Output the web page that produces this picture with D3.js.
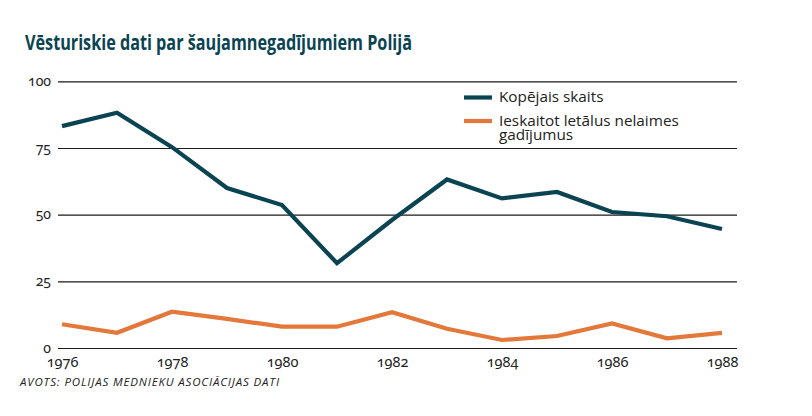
<!DOCTYPE html>
<html>
<head>
<meta charset="utf-8">
<script src="https://cdn.jsdelivr.net/npm/d3@7"></script>
<style>
  body { margin: 0; background: #fff; }
  svg text { font-family: "Open Sans", "Noto Sans", sans-serif; }
  svg .tick text { font-family: "Noto Sans", "Open Sans", sans-serif; font-feature-settings: "onum" 1; font-variant-numeric: oldstyle-nums; }
</style>
</head>
<body>
<div id="chart"></div>
<script>
// Chart data
const years = [1976, 1977, 1978, 1979, 1980, 1981, 1982, 1983, 1984, 1985, 1986, 1987, 1988]
const total = [83.2, 88.2, 75.3, 60, 53.6, 31.8, 48, 63.2, 56.1, 58.5, 51, 49.4, 44.6]
const fatal = [8.9, 5.7, 13.6, 10.9, 8, 8, 13.4, 7.2, 3, 4.5, 9.2, 3.6, 5.7]
const yTicks = [0, 25, 50, 75, 100]
const xTicks = [1976, 1978, 1980, 1982, 1984, 1986, 1988]
const seriesNames = ["Kopējais skaits", "Ieskaitot letālus nelaimes gadījumus"]

const colors = ["#0a4452", "#e3783a"]

let svg = d3.select("#chart").append("svg")
    .attr("width", 812)
    .attr("height", 416)

// scales
let x = d3.scaleLinear().domain([1976, 1988]).range([62, 722])
let y = d3.scaleLinear().domain([0, 100]).range([348, 81.3])

// title
svg.append("text")
    .attr("x", 25)
    .attr("y", 50)
    .attr("fill", "#0a4452")
    .attr("font-size", 20.5)
    .attr("font-weight", 700)
    .attr("textLength", 387)
    .attr("lengthAdjust", "spacingAndGlyphs")
    .text("Vēsturiskie dati par šaujamnegadījumiem Polijā")

// horizontal gridlines with labels
let yAxis = d3.axisLeft(y)
    .tickValues(yTicks)
    .tickSize(0)
    .tickPadding(0)

let gy = svg.append("g").call(yAxis)
gy.select(".domain").remove()
gy.selectAll(".tick line")
    .attr("x1", 58)
    .attr("x2", 737)
    .attr("stroke", "#1a1a1a")
    .attr("stroke-width", 1.2)
gy.selectAll(".tick text")
    .attr("x", 51)
    .attr("dy", "0.3em")
    .attr("fill", "#222")
    .attr("font-size", 14)

// x axis labels
let xAxis = d3.axisBottom(x)
    .tickValues(xTicks)
    .tickFormat(d3.format("d"))
    .tickSize(0)
    .tickPadding(0)

let gx = svg.append("g").attr("transform", "translate(0,348)").call(xAxis)
gx.select(".domain").remove()
gx.selectAll(".tick text")
    .attr("y", 19)
    .attr("dy", 0)
    .attr("fill", "#222")
    .attr("font-size", 14.5)

// lines
let line = d3.line()
    .x(function(d){return x(d[0])})
    .y(function(d){return y(d[1])})

let series = [total, fatal]
series.forEach(function(vals, i) {
    svg.append("path")
        .datum(years.map(function(yr, j){return [yr, vals[j]]}))
        .attr("d", line)
        .attr("fill", "none")
        .attr("stroke", colors[i])
        .attr("stroke-width", 4.2)
        .attr("stroke-linejoin", "miter")
})

// legend
let legend = svg.append("g")
let legendRows = [[seriesNames[0]], ["Ieskaitot letālus nelaimes", "gadījumus"]]
let legendY = [97.5, 121]
legendRows.forEach(function(rows, i) {
    legend.append("line")
        .attr("x1", 464).attr("x2", 492)
        .attr("y1", legendY[i]).attr("y2", legendY[i])
        .attr("stroke", colors[i])
        .attr("stroke-width", 4.2)
    rows.forEach(function(r, k) {
        legend.append("text")
            .attr("x", 499)
            .attr("y", legendY[i] + 4.5 + k * 14.5)
            .attr("fill", "#222")
            .attr("font-size", 15.3)
            .text(r)
    })
})

// source
svg.append("text")
    .attr("x", 20)
    .attr("y", 386)
    .attr("fill", "#222")
    .attr("font-size", 11.5)
    .attr("font-style", "italic")
    .attr("letter-spacing", 0.85)
    .text("AVOTS: POLIJAS MEDNIEKU ASOCIĀCIJAS DATI")
</script>
</body>
</html>
